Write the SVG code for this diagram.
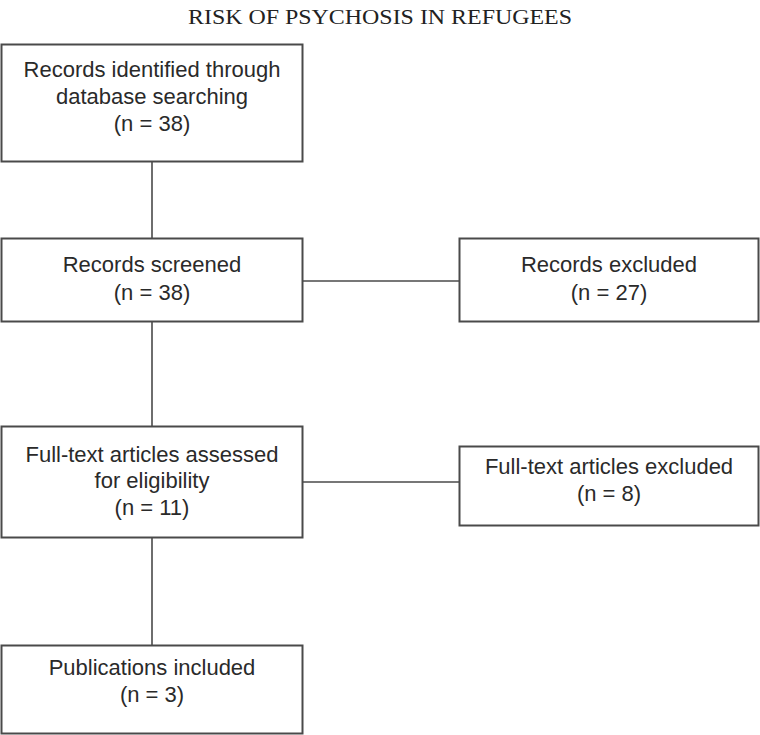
<svg xmlns="http://www.w3.org/2000/svg" width="760" height="735" viewBox="0 0 760 735">
<style>
.box{fill:#fff;stroke:#4a4a4a;stroke-width:2}
.t{font-family:"Liberation Sans",Arial,sans-serif;font-size:22px;fill:#2a2a2a;text-anchor:middle}
.title{font-family:"Liberation Serif","Times New Roman",serif;font-size:22px;fill:#222;text-anchor:middle}
.c{stroke:#4a4a4a;stroke-width:1.6;fill:none}
</style>
<rect width="760" height="735" fill="#fff"/>
<text class="title" x="380" y="24" textLength="384" lengthAdjust="spacingAndGlyphs">RISK OF PSYCHOSIS IN REFUGEES</text>
<g id="connectors">
<line class="c" x1="152" y1="162" x2="152" y2="238"/>
<line class="c" x1="152" y1="322" x2="152" y2="427"/>
<line class="c" x1="152" y1="537" x2="152" y2="645"/>
<line class="c" x1="303" y1="281" x2="459" y2="281"/>
<line class="c" x1="303" y1="482" x2="459" y2="482"/>
</g>
<g id="n1">
<rect class="box" x="1.5" y="44.5" width="301" height="117"/>
<text class="t" x="152" y="77">Records identified through</text>
<text class="t" x="152" y="104">database searching</text>
<text class="t" x="152" y="131">(n = 38)</text>
</g>
<g id="n2">
<rect class="box" x="1.5" y="238.5" width="301" height="83"/>
<text class="t" x="152" y="272">Records screened</text>
<text class="t" x="152" y="300">(n = 38)</text>
</g>
<g id="n3">
<rect class="box" x="459.5" y="238.5" width="299" height="83"/>
<text class="t" x="609" y="272">Records excluded</text>
<text class="t" x="609" y="300">(n = 27)</text>
</g>
<g id="n4">
<rect class="box" x="1.5" y="426.5" width="301" height="111"/>
<text class="t" x="152" y="462">Full-text articles assessed</text>
<text class="t" x="152" y="488">for eligibility</text>
<text class="t" x="152" y="515">(n = 11)</text>
</g>
<g id="n5">
<rect class="box" x="459.5" y="446.5" width="299" height="79"/>
<text class="t" x="609" y="474">Full-text articles excluded</text>
<text class="t" x="609" y="501">(n = 8)</text>
</g>
<g id="n6">
<rect class="box" x="1.5" y="645.5" width="301" height="88"/>
<text class="t" x="152" y="675">Publications included</text>
<text class="t" x="152" y="702">(n = 3)</text>
</g>
</svg>
